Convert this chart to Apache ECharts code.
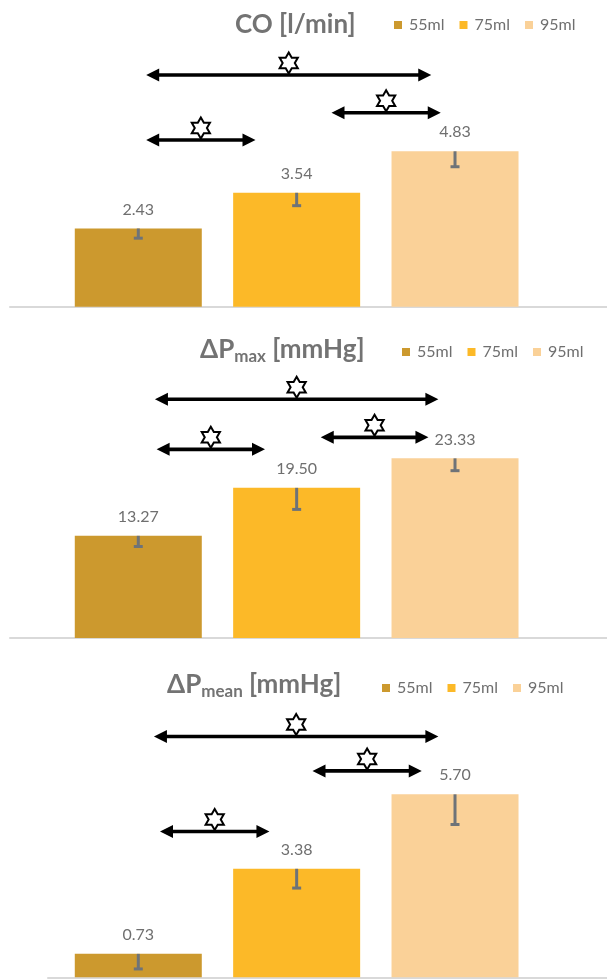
<!DOCTYPE html>
<html><head><meta charset="utf-8">
<script src="https://cdn.jsdelivr.net/npm/echarts@6/dist/echarts.min.js"></script>
<style>html,body{margin:0;padding:0;background:#fff}#c{width:607px;height:980px}</style>
</head><body><div id="c"></div>
<script>
// ---- data ----
const categories = ['55ml', '75ml', '95ml'];
const coValues = [2.43, 3.54, 4.83];
const coErrors = [0.30, 0.40, 0.48];
const pmaxValues = [13.27, 19.50, 23.33];
const pmaxErrors = [1.39, 2.80, 1.60];
const pmeanValues = [0.73, 3.38, 5.70];
const pmeanErrors = [0.47, 0.60, 0.94];
// significance comparisons: [from (category units), to (category units), level (value units)]
const coSig = [[0.05, 1.85, 7.20], [1.22, 1.91, 6.03], [0.05, 0.74, 5.18]];
const pmaxSig = [[0.105, 1.895, 31.0], [1.152, 1.832, 26.06], [0.116, 0.80, 24.5]];
const pmeanSig = [[0.099, 1.895, 7.50], [1.10, 1.79, 6.43], [0.137, 0.828, 4.54]];

// ---- styling / layout ----
const FONT = 'Lato';
const colors = ['#CC992E', '#FCB928', '#FAD198'];
const GREY = '#6f6f6f';
const ERR = '#6E7378';
const panels = [
  { values: coValues, errors: coErrors, sig: coSig, yMax: 8, top: 49.3, bottom: 673.3, baseLeft: 10,
    title: '{m|CO [l/min]}', titleLeft: 235, titleTop: 10, legendLeft: 394, legendTop: 17 },
  { values: pmaxValues, errors: pmaxErrors, sig: pmaxSig, yMax: 32, top: 391.6, bottom: 342, baseLeft: 10,
    title: '{m|ΔP}{s|max}{m| [mmHg]}', titleLeft: 200, titleTop: 335, legendLeft: 402, legendTop: 344 },
  { values: pmeanValues, errors: pmeanErrors, sig: pmeanSig, yMax: 8, top: 720.5, bottom: 2.7, baseLeft: 48,
    title: '{m|ΔP}{s|mean}{m| [mmHg]}', titleLeft: 167, titleTop: 670, legendLeft: 382, legendTop: 680 }
];

function errorItem(params, api) {
  const x = api.value(0), v = api.value(1), e = api.value(2);
  const p0 = api.coord([x, v]);
  const p1 = api.coord([x, v - e]);
  const st = { stroke: ERR, lineWidth: 3 };
  return { type: 'group', children: [
    { type: 'line', shape: { x1: p0[0], y1: p0[1], x2: p1[0], y2: p1[1] }, style: st },
    { type: 'line', shape: { x1: p1[0] - 4.5, y1: p1[1], x2: p1[0] + 4.5, y2: p1[1] }, style: st }
  ]};
}

function sigItem(params, api) {
  const a = api.coord([api.value(0), api.value(2)]);
  const b = api.coord([api.value(1), api.value(2)]);
  const y = a[1], hl = 13, hh = 6.5;
  const mx = (a[0] + b[0]) / 2, R = 10.5, r = R / Math.sqrt(3), cy = y - R - 1.5;
  const star = [];
  for (let k = 0; k < 12; k++) {
    const ang = (-90 + k * 30) * Math.PI / 180;
    const rr = k % 2 === 0 ? R : r;
    star.push([mx + rr * Math.cos(ang), cy + rr * Math.sin(ang)]);
  }
  return { type: 'group', children: [
    { type: 'line', shape: { x1: a[0] + hl - 1, y1: y, x2: b[0] - hl + 1, y2: y }, style: { stroke: '#000', lineWidth: 3.6 } },
    { type: 'polygon', shape: { points: [[a[0], y], [a[0] + hl, y - hh], [a[0] + hl, y + hh]] }, style: { fill: '#000' } },
    { type: 'polygon', shape: { points: [[b[0], y], [b[0] - hl, y - hh], [b[0] - hl, y + hh]] }, style: { fill: '#000' } },
    { type: 'polygon', shape: { points: star }, style: { fill: '#fff', stroke: '#000', lineWidth: 2 } }
  ]};
}

const option = { animation: false, backgroundColor: '#fff', title: [], legend: [], grid: [], xAxis: [], yAxis: [], series: [] };

panels.forEach((p, pi) => {
  option.grid.push({ left: 59.1, right: 72.8, top: p.top, bottom: p.bottom });
  option.grid.push({ left: p.baseLeft, right: 0, top: p.top, bottom: p.bottom });
  option.xAxis.push({ type: 'category', data: categories, gridIndex: 2 * pi, show: false });
  option.xAxis.push({ type: 'value', min: -0.5, max: 2.5, gridIndex: 2 * pi, show: false });
  option.xAxis.push({ type: 'value', min: 0, max: 1, gridIndex: 2 * pi + 1,
    axisLine: { show: true, onZero: false, lineStyle: { color: '#D9D9D9', width: 2 } },
    axisTick: { show: false }, axisLabel: { show: false }, splitLine: { show: false } });
  option.yAxis.push({ type: 'value', min: 0, max: p.yMax, gridIndex: 2 * pi, show: false });
  option.yAxis.push({ type: 'value', min: 0, max: 1, gridIndex: 2 * pi + 1, show: false });

  option.title.push({
    text: p.title, left: p.titleLeft, top: p.titleTop, padding: 0,
    textStyle: { rich: {
      m: { fontFamily: FONT, fontSize: 26, fontWeight: 'bold', color: '#737373', lineHeight: 30 },
      s: { fontFamily: FONT, fontSize: 17, fontWeight: 'bold', color: '#737373', lineHeight: 12, verticalAlign: 'bottom' }
    } }
  });
  option.legend.push({
    data: categories, left: p.legendLeft, top: p.legendTop, padding: 0, icon: 'rect',
    itemWidth: 8, itemHeight: 8, itemGap: 15, selectedMode: false,
    textStyle: { fontFamily: FONT, fontSize: 16, color: GREY, padding: [0, 0, 0, 2] }
  });

  categories.forEach((c, i) => {
    option.series.push({
      type: 'bar', name: c, xAxisIndex: 3 * pi, yAxisIndex: 2 * pi,
      barWidth: 127, barGap: '-100%',
      data: p.values.map((v, j) => (j === i ? v : '-')),
      itemStyle: { color: colors[i] },
      label: { show: true, position: 'top', distance: 11, fontFamily: FONT, fontSize: 16, color: GREY,
        formatter: (d) => Number(d.value).toFixed(2) }
    });
  });
  option.series.push({
    type: 'custom', xAxisIndex: 3 * pi, yAxisIndex: 2 * pi, z: 5,
    data: p.values.map((v, j) => [j, v, p.errors[j]]),
    encode: { x: 0, y: 1 }, renderItem: errorItem
  });
  option.series.push({
    type: 'custom', xAxisIndex: 3 * pi + 1, yAxisIndex: 2 * pi, z: 6,
    data: p.sig, encode: { x: [0, 1], y: 2 }, renderItem: sigItem
  });
});

const chart = echarts.init(document.getElementById('c'), null, { renderer: 'canvas' });
chart.setOption(option);
</script>
</body></html>
